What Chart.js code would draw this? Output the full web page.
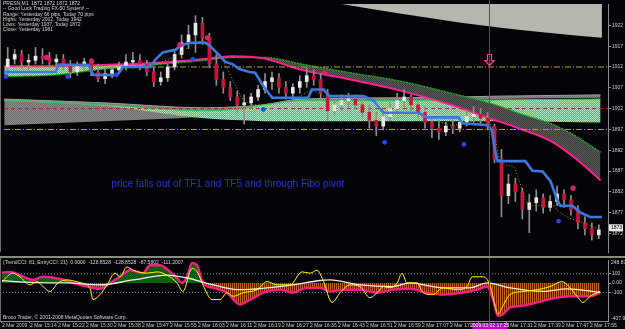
<!DOCTYPE html>
<html>
<head>
<meta charset="utf-8">
<script src="https://cdn.jsdelivr.net/npm/chart.js@4.4.1/dist/chart.umd.min.js"></script>
<style>
  html, body { margin: 0; padding: 0; background: #040408; }
  #wrap { position: relative; width: 625px; height: 329px; overflow: hidden; background: #040408; }
  #mainChart { position: absolute; left: 0; top: 0; }
  #sep { position: absolute; left: 0; top: 256px; width: 625px; height: 2px; background: #8a8a7e; }
  #cciChart { position: absolute; left: 0; top: 258px; }
</style>
</head>
<body>
<div id="wrap">
  <canvas id="mainChart" width="625" height="256"></canvas>
  <div id="sep"></div>
  <canvas id="cciChart" width="625" height="71"></canvas>
</div>
<script>
// ====== DATA ======
// x axis is the bar number (one bar per minute, labels every 8 bars)
const timeLabels = ["2 Mar 2009", "2 Mar 15:14", "2 Mar 15:22", "2 Mar 15:30", "2 Mar 15:38", "2 Mar 15:47",
  "2 Mar 15:55", "2 Mar 16:03", "2 Mar 16:11", "2 Mar 16:19", "2 Mar 16:27", "2 Mar 16:35", "2 Mar 16:43",
  "2 Mar 16:51", "2 Mar 16:59", "2 Mar 17:07", "2 Mar 17:15", "2 Mar 17:23", "2 Mar 17:31", "2 Mar 17:39",
  "2 Mar 17:47", "2 Mar 17:55"];
const barsPerLabel = 8;
const xMin = -0.571, xMax = 173.14;
const crossBar = 139;
const crossLabel = "2009.03.02 17:25";

const priceTicks = [1922, 1917, 1912, 1907, 1902, 1897, 1892, 1887, 1882, 1877, 1872];
const priceMin = 1867.58, priceMax = 1927.12;
const lastPrice = 1873.4;

// candles (each one covers two minute bars)
const candleOpen = [1912.0, 1913.9, 1915.0, 1913.2, 1913.6, 1914.6, 1914.1, 1913.2, 1913.9, 1912.2,
  1910.8, 1912.5, 1913.2, 1910.8, 1909.2, 1910.4, 1911.3, 1912.0, 1913.2, 1913.6,
  1912.7, 1910.8, 1908.5, 1909.4, 1912.0, 1915.0, 1917.8, 1919.7, 1922.5, 1919.0,
  1912.7, 1909.0, 1907.1, 1904.8, 1902.9, 1903.4, 1904.8, 1906.6, 1908.5, 1909.4,
  1907.1, 1905.7, 1907.1, 1908.5, 1909.9, 1909.0, 1905.7, 1901.5, 1902.9, 1903.9,
  1904.3, 1902.9, 1901.1, 1899.2, 1897.8, 1900.1, 1902.0, 1903.9, 1904.8, 1902.9,
  1901.1, 1898.7, 1897.3, 1896.4, 1897.8, 1897.3, 1898.7, 1900.1, 1900.6, 1899.7,
  1897.8, 1889.9, 1881.1, 1883.9, 1882.0, 1877.8, 1879.4, 1880.6, 1878.3, 1879.7,
  1881.5, 1880.1, 1877.8, 1874.6, 1873.2, 1871.7];
const candleHigh = [1916.7, 1916.2, 1916.0, 1915.0, 1916.7, 1916.4, 1915.5, 1915.0, 1915.0, 1913.6,
  1913.2, 1914.1, 1913.9, 1912.7, 1911.8, 1912.2, 1913.2, 1915.0, 1915.5, 1915.0,
  1913.6, 1912.2, 1910.8, 1912.7, 1916.0, 1919.7, 1922.0, 1924.3, 1923.9, 1920.1,
  1915.0, 1910.8, 1908.5, 1906.2, 1905.3, 1905.7, 1907.6, 1910.4, 1910.8, 1910.4,
  1908.5, 1908.0, 1909.9, 1911.8, 1911.3, 1910.4, 1906.6, 1904.3, 1905.3, 1905.7,
  1905.3, 1904.3, 1902.9, 1901.1, 1901.5, 1903.4, 1905.7, 1906.6, 1905.3, 1903.9,
  1902.5, 1900.1, 1899.2, 1898.7, 1899.2, 1900.1, 1901.5, 1902.5, 1902.0, 1901.1,
  1898.3, 1892.2, 1886.2, 1885.3, 1882.9, 1881.5, 1882.5, 1881.5, 1881.1, 1883.4,
  1882.5, 1881.1, 1878.7, 1876.0, 1874.6, 1874.1];
const candleLow = [1909.7, 1912.7, 1911.8, 1911.3, 1912.7, 1912.7, 1911.8, 1912.0, 1911.3, 1909.4,
  1909.9, 1911.3, 1909.9, 1908.5, 1908.0, 1909.4, 1910.4, 1911.3, 1911.8, 1911.3,
  1909.9, 1907.3, 1907.6, 1908.5, 1911.3, 1914.1, 1916.4, 1915.5, 1917.4, 1911.8,
  1907.6, 1905.7, 1903.9, 1901.1, 1898.3, 1902.0, 1903.9, 1905.7, 1906.6, 1905.7,
  1904.3, 1904.3, 1905.7, 1907.1, 1907.6, 1903.9, 1899.2, 1900.6, 1901.5, 1902.5,
  1902.0, 1899.7, 1897.3, 1895.5, 1896.9, 1899.2, 1901.1, 1902.5, 1901.5, 1899.7,
  1897.3, 1895.0, 1894.6, 1895.5, 1896.0, 1896.4, 1897.8, 1898.7, 1898.3, 1896.9,
  1889.0, 1876.0, 1879.2, 1879.7, 1875.5, 1872.2, 1877.4, 1876.9, 1877.4, 1878.7,
  1878.3, 1876.4, 1873.2, 1871.7, 1870.4, 1870.8];
const candleClose = [1913.9, 1915.0, 1913.2, 1913.6, 1914.6, 1914.1, 1913.2, 1913.9, 1912.2, 1910.8,
  1912.5, 1913.2, 1910.8, 1909.2, 1910.4, 1911.3, 1912.0, 1913.2, 1913.6, 1912.7,
  1910.8, 1908.5, 1909.4, 1912.0, 1915.0, 1917.8, 1919.7, 1922.5, 1919.0, 1912.7,
  1909.0, 1907.1, 1904.8, 1902.9, 1903.4, 1904.8, 1906.6, 1908.5, 1909.4, 1907.1,
  1905.7, 1907.1, 1908.5, 1909.9, 1909.0, 1905.7, 1901.5, 1902.9, 1903.9, 1904.3,
  1902.9, 1901.1, 1899.2, 1897.8, 1900.1, 1902.0, 1903.9, 1904.8, 1902.9, 1901.1,
  1898.7, 1897.3, 1896.4, 1897.8, 1897.3, 1898.7, 1900.1, 1900.6, 1899.7, 1897.8,
  1889.9, 1881.1, 1883.9, 1882.0, 1877.8, 1879.4, 1880.6, 1878.3, 1879.7, 1881.5,
  1880.1, 1877.8, 1874.6, 1873.2, 1871.7, 1872.9];

// TF1 band (pink line and green edge)
const bandBar = [-0.5, 14, 28, 42, 57, 65, 74, 85, 99, 114, 128, 139, 148, 157, 164, 171];
const tf1Line = [1912.2, 1912.2, 1912.5, 1912.9, 1913.9, 1914.6, 1914.1, 1911.3, 1909.0, 1906.2, 1902.9, 1899.7, 1897.1, 1894.1, 1889.9, 1884.8];
const tf1Edge = [1909.7, 1910.1, 1911.5, 1912.5, 1913.6, 1914.3, 1914.3, 1912.7, 1910.6, 1908.5, 1905.7, 1903.4, 1900.8, 1898.3, 1895.3, 1891.5];

// TF5 clouds
const cloudBar = [-0.5, 28, 57, 68, 74, 85, 114, 142, 171];
const grayTop = [1904.3, 1903.4, 1902.2, 1902.5, 1902.9, 1904.3, 1904.6, 1905.0, 1905.3];
const grayBottom = [1898.0, 1899.0, 1900.1, 1901.3, 1902.5, 1903.6, 1903.6, 1904.3, 1904.6];
const greenTop = [1904.1, 1902.9, 1901.5, 1902.0, 1902.9, 1903.9, 1903.9, 1904.1, 1904.3];
const greenBottom = [1903.9, 1902.7, 1899.7, 1899.2, 1899.0, 1899.0, 1899.0, 1899.0, 1898.7];

// grey wedge at the top right
const wedgeBar = [96, 113.7, 136.6, 159.4, 171.4];
const wedgePrice = [1927.2, 1924.8, 1922.0, 1919.9, 1919.0];

// pivot levels
const yellowLevels = [1912, 1897];
const redLevel = 1902;

// blue step line
const blueBar = [-0.5, 14.3, 15.1, 23.7, 25.1, 32, 33.7, 41.4, 43.1, 45.1, 48.9, 50, 52.9, 57.4, 58.6,
  61.4, 63.1, 65.1, 67.1, 70, 71.7, 73.7, 75.7, 76.6, 86.9, 88, 91.4, 92.9, 102.9, 105.7,
  108.6, 118.6, 120.9, 130, 131.4, 138.6, 139.7, 140.6, 141.4, 149.4, 151.4, 154.3, 156.6, 158.3, 159.4,
  162.9, 165.1, 168, 171.4];
const bluePrice = [1910.8, 1910.8, 1912.5, 1912.5, 1910.1, 1910.1, 1912.0, 1912.0, 1913.9, 1915.5,
  1916.2, 1917.1, 1917.8, 1917.8, 1917.1, 1914.8, 1913.2, 1912.7, 1911.5, 1910.8,
  1910.6, 1907.8, 1905.5, 1904.6, 1904.6, 1906.6, 1906.6, 1905.0, 1905.0, 1903.9,
  1901.0, 1901.0, 1899.9, 1899.9, 1898.5, 1898.0, 1896.9, 1892.2, 1889.4, 1889.4,
  1887.1, 1886.9, 1884.6, 1880.6, 1878.7, 1878.7, 1877.1, 1876.0, 1876.0];

// olive dotted average
const maBar = [-0.5, 8, 16.6, 25.1, 33.7, 42.3, 48, 53.7, 56.6, 59.4, 62.9, 65.7, 68.6, 73.7, 82.3,
  88, 93.7, 102.3, 110.9, 119.4, 128, 136.6, 140, 142.3, 146, 147.4, 148.9, 150.3, 157.4, 158.6,
  161.4, 167.1, 170.9];
const maPrice = [1911.3, 1911.8, 1912.7, 1912.2, 1911.8, 1912.7, 1914.3, 1917.4, 1918.3, 1916.7,
  1912.7, 1908.0, 1903.9, 1902.9, 1903.9, 1906.2, 1903.9, 1902.7, 1899.7, 1901.1,
  1898.0, 1899.2, 1897.3, 1889.2, 1888.0, 1885.3, 1881.3, 1878.7, 1878.7, 1877.6,
  1876.0, 1874.3, 1872.9];

// fractal dots
const pinkBar = [11.7, 24.6, 50, 58, 91.7, 163.1];
const pinkPrice = [1914.3, 1913.4, 1917.3, 1919.0, 1910.6, 1882.9];
const blueDotBar = [0, 17.7, 31.7, 53.7, 74, 108.9, 131.7, 158.9];
const blueDotPrice = [1909.7, 1909.7, 1910.1, 1913.9, 1901.8, 1893.9, 1893.4, 1875.0];

// arrow and note
const arrowPrice = 1915.0;
const noteText = "price falls out of TF1 and TF5 and through Fibo pivot";
const noteBar = 30.3, notePrice = 1883.9;

const infoLines = ["PRESN,M1  1872 1872 1872 1872", "-- Good Luck Trading FX-50 System! --",
  "Range: Yesterday 66 pips, Today 70 pips", "Highs: Yesterday 2002, Today 1942",
  "Lows: Yesterday 1937, Today 1872", "Close: Yesterday 1961"];

// CCI panel
const cciMin = -407.929, cciMax = 248.876;
const cciTicks = [100, 0, -100];
const cciTickText = { "100": "100", "0": "0.00", "-100": "-100" };
const trendBar = [0, 2.3, 5.1, 8.9, 11.7, 16.6, 20.3, 26, 28, 30.9, 33.7, 36.6, 40.3, 42.3, 45.1, 48, 50,
  51.4, 52.9, 54.3, 55.7, 57.4, 60.3, 64.3, 68, 70.9, 75.7, 79.4, 83.1, 87.1, 90.9, 93.7, 97.4, 102.3,
  107.1, 111.7, 116.6, 121.4, 126, 131.7, 135.7, 138.6, 140.3, 141.7, 143.1, 145.1, 148, 152.9, 158.6,
  163.1, 168, 170.9];
const trendCCI = [111, 121, 86, 34, 68, 44, 2, -51, -61, 2, 68, 139, 107, 192, 192, 121, 55, 2, 68, 216,
  192, 2, -51, -103, -230, -177, -90, -71, -103, -51, -51, -90, -71, -71, -103, -71, -61, -103, -124,
  -103, -71, -37, -177, -353, -335, -262, -247, -208, -156, -142, -142, -103];
const entryBar = [0, 3.1, 5.1, 8, 10, 11.7, 13.7, 16, 18.6, 22.3, 25.1, 26, 28, 30, 32.3, 33.7, 35.7, 37.4,
  41.4, 44.3, 47.1, 50, 51.7, 54.3, 56, 57.4, 60, 62.3, 64.3, 66, 68.9, 72.9, 75.7, 78.6, 82.3, 85.7, 88,
  90, 91.7, 94.3, 96.6, 99.4, 102.3, 105.1, 108, 108.9, 110.9, 112.9, 114.3, 115.7, 118.6, 120.3, 123.1,
  126, 130, 132.9, 134.3, 137.4, 139.4, 140.9, 141.7, 143.1, 145.1, 148.9, 152.9, 156.6, 160, 162.3,
  164.3, 166, 168, 170.9];
const entryCCI = [16, 107, 68, -19, 16, -37, -90, 2, 34, 5, -51, -177, -124, -19, 107, 68, 174, 139, 107,
  121, 86, 2, -90, 160, 107, -19, -177, -177, -103, -142, -103, -71, 16, -19, -19, 121, 107, 139, 34,
  -208, -103, -19, -37, -156, -71, -37, -51, 2, 107, 2, 2, -103, -124, -51, -71, -37, 68, 68, -19, -247,
  -335, -247, -124, -90, -71, -37, 16, -51, -142, -208, -142, -90];
const signalBar = [0, 8.9, 18.6, 28, 37.4, 47.1, 52.9, 60.3, 68, 75.7, 83.1, 90.9, 93.7, 102.3, 111.7,
  116.6, 126, 133.7, 138.6, 145.1, 154.6, 161.4, 170.9];
const signalCCI = [26, 5, 2, -19, 34, 86, 55, -19, -71, -51, -19, 28, 34, -19, -37, 2, -51, -51, 2, -51,
  -90, -61, -100];
const cciTitle = "(TrendCCI: 81, EntryCCI: 21)  0.0000  -128.8528  -128.8528  -87.5802  -111.2007";
const copyright = "Broco Trader, \u00a9 2001-2008 MetaQuotes Software Corp.";

document.addEventListener("DOMContentLoaded", function () {
  const FONT = "'Liberation Sans', Arial, sans-serif";
  Chart.defaults.font.family = FONT;
  Chart.defaults.color = "#c8c8c8";

  const pts = (xs, ys) => xs.map((x, i) => ({ x: x, y: ys[i] }));
  const flat = (v) => [{ x: xMin, y: v }, { x: xMax, y: v }];

  function checker(a, b) {
    const c = document.createElement("canvas");
    c.width = 2; c.height = 2;
    const g = c.getContext("2d");
    g.fillStyle = a; g.fillRect(0, 0, 2, 2);
    g.fillStyle = b; g.fillRect(0, 0, 1, 1); g.fillRect(1, 1, 1, 1);
    return g.createPattern(c, "repeat");
  }
  function stripes(a, b) {
    const c = document.createElement("canvas");
    c.width = 2; c.height = 1;
    const g = c.getContext("2d");
    g.fillStyle = a; g.fillRect(0, 0, 1, 1);
    g.fillStyle = b; g.fillRect(1, 0, 1, 1);
    return g.createPattern(c, "repeat");
  }
  const greenPat = checker("#2fd05a", "#b4f2c4");
  const grayPat = checker("#8c8c8c", "#6c6c6c");
  const darkPat = checker("#5a5a5a", "#3a3a3a");
  const brownPat = stripes("#c0601c", "#3e1606");
  const cciGreen = checker("#007200", "#005200");

  // ====== MAIN PRICE CHART ======
  const ds = [];
  const add = (d) => { ds.push(Object.assign({ type: "line", pointRadius: 0, fill: false }, d)); return ds.length - 1; };

  add({ data: pts(wedgeBar, wedgePrice), fill: "end", backgroundColor: "#b6b6ae", borderWidth: 0,
        cubicInterpolationMode: "monotone", order: 100 });

  const gb = add({ data: pts(cloudBar, grayBottom), borderWidth: 0, cubicInterpolationMode: "monotone", order: 91 });
  add({ data: pts(cloudBar, grayTop), borderColor: "#a0a0a0", borderWidth: 1, cubicInterpolationMode: "monotone",
        fill: { target: gb, above: grayPat, below: grayPat }, order: 90 });

  const gnb = add({ data: pts(cloudBar, greenBottom), borderWidth: 0, cubicInterpolationMode: "monotone", order: 81 });
  add({ data: pts(cloudBar, greenTop), borderColor: "#30c858", borderWidth: 1, cubicInterpolationMode: "monotone",
        fill: { target: gnb, above: greenPat, below: greenPat }, order: 80 });

  const pinkIdx = add({ data: pts(bandBar, tf1Line), borderColor: "#ff1f8f", borderWidth: 2,
        cubicInterpolationMode: "monotone", order: 60 });
  add({ data: pts(bandBar, tf1Edge), borderColor: "#14b414", borderWidth: 1.5, borderDash: [2, 1],
        cubicInterpolationMode: "monotone", fill: { target: pinkIdx, above: darkPat, below: greenPat }, order: 61 });

  yellowLevels.forEach(function (v) {
    add({ data: flat(v), borderColor: "#b4a41c", borderWidth: 1, borderDash: [6, 2, 1, 2], order: 50 });
  });
  add({ data: flat(redLevel), borderColor: "#a8203c", borderWidth: 1, borderDash: [4, 3], order: 50 });

  const candleX = candleOpen.map((o, i) => 2 * i + 0.5);
  add({ type: "bar", data: candleX.map((x, i) => ({ x: x, y: [candleLow[i], candleHigh[i]] })),
        backgroundColor: "#8e8e8e", barThickness: 1, grouped: false, order: 41 });
  add({ type: "bar", data: candleX.map((x, i) => ({ x: x, y: [candleOpen[i], candleClose[i]] })),
        backgroundColor: candleX.map((x, i) => candleClose[i] >= candleOpen[i] ? "#e8e8e8" : "#c8143c"),
        barThickness: 3, grouped: false, order: 40 });

  add({ data: pts(maBar, maPrice), borderColor: "#a08a28", borderWidth: 1, borderDash: [1, 2],
        cubicInterpolationMode: "monotone", order: 35 });
  add({ data: pts(blueBar, bluePrice), borderColor: "#3c78e0", borderWidth: 2.6, tension: 0, order: 20 });

  add({ data: pts(pinkBar, pinkPrice), showLine: false, pointRadius: 2.6, pointBackgroundColor: "#e0206c",
        pointBorderWidth: 0, order: 10 });
  add({ data: pts(blueDotBar, blueDotPrice), showLine: false, pointRadius: 2.4, pointBackgroundColor: "#2a44e6",
        pointBorderWidth: 0, order: 10 });

  const mainOverlay = {
    id: "mainOverlay",
    afterDraw(chart) {
      const { ctx, chartArea, scales } = chart;
      const xs = scales.x, ys = scales.y;
      ctx.save();
      // frame on the left
      ctx.strokeStyle = "#6e6e6e";
      ctx.lineWidth = 1;
      ctx.beginPath(); ctx.moveTo(0.5, 0); ctx.lineTo(0.5, chartArea.bottom); ctx.stroke();

      // crosshair
      const cx = Math.round(xs.getPixelForValue(crossBar)) + 0.5;
      ctx.strokeStyle = "#8224b0";
      ctx.beginPath(); ctx.moveTo(cx, 0); ctx.lineTo(cx, chart.height); ctx.stroke();

      // down arrow
      const top = ys.getPixelForValue(arrowPrice);
      ctx.strokeStyle = "#ff3c8c";
      ctx.lineWidth = 1.2;
      ctx.beginPath();
      ctx.moveTo(cx - 2, top); ctx.lineTo(cx + 2, top); ctx.lineTo(cx + 2, top + 6);
      ctx.lineTo(cx + 4.5, top + 6); ctx.lineTo(cx, top + 11); ctx.lineTo(cx - 4.5, top + 6);
      ctx.lineTo(cx - 2, top + 6); ctx.closePath(); ctx.stroke();

      // info text
      ctx.font = "5px " + FONT;
      ctx.fillStyle = "#d4d4d4";
      ctx.textBaseline = "middle";
      ctx.textAlign = "left";
      infoLines.forEach((t, i) => ctx.fillText(t, 3, 4 + i * 5.1));

      // note
      ctx.font = "10px " + FONT;
      ctx.fillStyle = "#2433d6";
      ctx.fillText(noteText, xs.getPixelForValue(noteBar), ys.getPixelForValue(notePrice));

      // current price box
      const py = ys.getPixelForValue(lastPrice);
      ctx.fillStyle = "#e8e8e8";
      ctx.fillRect(chartArea.right + 1, py - 3.5, 14, 7);
      ctx.fillStyle = "#000000";
      ctx.font = "5px " + FONT;
      ctx.fillText("1873", chartArea.right + 3, py);
      ctx.restore();
    }
  };

  new Chart(document.getElementById("mainChart"), {
    type: "line",
    data: { datasets: ds },
    options: {
      responsive: false,
      animation: false,
      devicePixelRatio: 1,
      events: [],
      layout: { padding: 0 },
      plugins: { legend: { display: false }, tooltip: { enabled: false } },
      scales: {
        x: { type: "linear", min: xMin, max: xMax, display: false, offset: false, grid: { offset: false } },
        y: {
          type: "linear", position: "right", min: priceMin, max: priceMax,
          afterBuildTicks: (s) => { s.ticks = priceTicks.map((v) => ({ value: v })); },
          afterFit: (s) => { s.width = 17; s.paddingTop = 0; s.paddingBottom = 0; },
          ticks: { font: { size: 5 }, color: "#c8c8c8", padding: 1, callback: (v) => String(v) },
          grid: { drawOnChartArea: false, drawTicks: true, tickLength: 3, color: "#8c8c8c" },
          border: { display: true, color: "#8c8c8c" }
        }
      }
    },
    plugins: [mainOverlay]
  });

  // ====== CCI PANEL ======
  const cds = [
    { data: flat(100), borderColor: "#8c8c8c", borderWidth: 1, borderDash: [1, 2], order: 20 },
    { data: flat(-100), borderColor: "#8c8c8c", borderWidth: 1, borderDash: [1, 2], order: 20 },
    { data: pts(trendBar, trendCCI), borderColor: "#ff1a8c", borderWidth: 2.4, cubicInterpolationMode: "monotone",
      fill: { target: "origin", above: cciGreen, below: brownPat }, order: 3 },
    { data: pts(signalBar, signalCCI), borderColor: "#f0f0f0", borderWidth: 1.3, cubicInterpolationMode: "monotone", order: 2 },
    { data: pts(entryBar, entryCCI), borderColor: "#ffff00", borderWidth: 1, cubicInterpolationMode: "monotone", order: 1 }
  ].map((d) => Object.assign({ type: "line", pointRadius: 0, fill: false }, d));

  const cciOverlay = {
    id: "cciOverlay",
    afterDraw(chart) {
      const { ctx, chartArea, scales } = chart;
      const xs = scales.x;
      ctx.save();
      ctx.strokeStyle = "#6e6e6e";
      ctx.lineWidth = 1;
      ctx.beginPath(); ctx.moveTo(0.5, 0); ctx.lineTo(0.5, chartArea.bottom); ctx.stroke();

      const cx = Math.round(xs.getPixelForValue(crossBar)) + 0.5;
      ctx.strokeStyle = "#8224b0";
      ctx.beginPath(); ctx.moveTo(cx, 0); ctx.lineTo(cx, chartArea.bottom + 2); ctx.stroke();

      ctx.font = "5px " + FONT;
      ctx.textBaseline = "middle";
      ctx.textAlign = "left";
      ctx.fillStyle = "#d4d4d4";
      ctx.fillText(cciTitle, 3, 5);
      ctx.fillText(copyright, 3, 60);
      ctx.fillText(String(cciMax), chartArea.right + 3, chartArea.top + 3);
      ctx.fillText(String(cciMin), chartArea.right + 3, chartArea.bottom - 2);

      // crosshair time box
      ctx.fillStyle = "#c400c4";
      ctx.fillRect(cx - 17, chartArea.bottom + 2, 35, chart.height - chartArea.bottom - 2);
      ctx.fillStyle = "#f4f4f4";
      ctx.textAlign = "center";
      ctx.fillText(crossLabel, cx, chartArea.bottom + 5);
      ctx.restore();
    }
  };

  new Chart(document.getElementById("cciChart"), {
    type: "line",
    data: { datasets: cds },
    options: {
      responsive: false,
      animation: false,
      devicePixelRatio: 1,
      events: [],
      layout: { padding: { top: 2, left: 0, right: 0, bottom: 0 } },
      plugins: { legend: { display: false }, tooltip: { enabled: false } },
      scales: {
        x: {
          type: "linear", min: xMin, max: xMax, offset: false,
          afterBuildTicks: (s) => { s.ticks = timeLabels.map((t, k) => ({ value: k * barsPerLabel })); },
          afterFit: (s) => { s.height = 8; s.paddingLeft = 0; s.paddingRight = 0; },
          ticks: { font: { size: 5 }, color: "#c8c8c8", padding: 0, align: "start", autoSkip: false,
                   maxRotation: 0, callback: (v, i) => timeLabels[i] },
          grid: { drawOnChartArea: false, drawTicks: true, tickLength: 2, color: "#8c8c8c" },
          border: { display: true, color: "#8c8c8c" }
        },
        y: {
          type: "linear", position: "right", min: cciMin, max: cciMax,
          afterBuildTicks: (s) => { s.ticks = cciTicks.map((v) => ({ value: v })); },
          afterFit: (s) => { s.width = 17; s.paddingTop = 0; s.paddingBottom = 0; },
          ticks: { font: { size: 5 }, color: "#c8c8c8", padding: 1, callback: (v) => cciTickText[String(v)] },
          grid: { drawOnChartArea: false, drawTicks: true, tickLength: 3, color: "#8c8c8c" },
          border: { display: true, color: "#8c8c8c" }
        }
      }
    },
    plugins: [cciOverlay]
  });
});
</script>
</body>
</html>
